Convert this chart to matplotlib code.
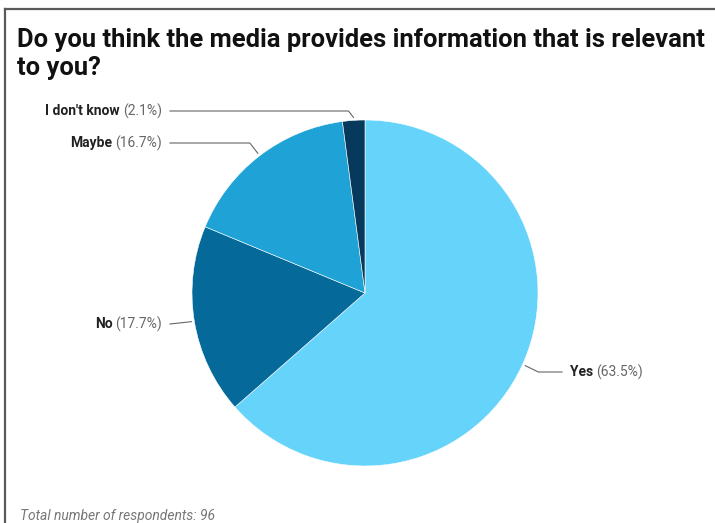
import numpy as np
import matplotlib
matplotlib.use("Agg")
from matplotlib import pyplot as plt
from matplotlib.lines import Line2D

# survey answers, clockwise from 12 o'clock
answers = ["Yes", "No", "Maybe", "I don't know"]
counts = [61, 17, 16, 2]
colors = ["#66D4FA", "#05699A", "#1FA2D5", "#07395C"]
title_lines = ["Do you think the media provides information that is relevant", "to you?"]
footnote = "Total number of respondents: 96"

W, H = 715, 523
plt.rcParams['font.family'] = ['Roboto', 'DejaVu Sans']

fig = plt.figure(figsize=(W / 100, H / 100), dpi=100)
ax = fig.add_axes([0, 0, 1, 1])

cx, cy, radius = 365, 293, 173
wedges, _ = ax.pie(counts, colors=colors, startangle=90, counterclock=False,
                   center=(cx, H - cy), radius=radius,
                   wedgeprops=dict(edgecolor="white", linewidth=0.4))
ax.set_xlim(0, W)
ax.set_ylim(0, H)
ax.set_aspect("equal")
ax.axis("off")

# frame of the card (left + top only)
fig.add_artist(Line2D([5 / W, 5 / W], [0, 1 - 9 / H], color="#5a5a5a", lw=1.6))
fig.add_artist(Line2D([5 / W, 1], [1 - 9 / H, 1 - 9 / H], color="#5a5a5a", lw=1.6))

for line, base in zip(title_lines, [47, 74.5]):
    fig.text(17 / W, 1 - base / H, line, fontsize=18.4, fontweight="bold",
             color="#111111", ha="left", va="baseline")
fig.text(20 / W, 1 - 520 / H, footnote, fontsize=10, style="italic",
         color="#777777", ha="left", va="baseline")

# label layout: (label y, elbow offset dx, line end x, side)
layout = {
    "Yes": (372, 13, 562, "right"),
    "No": (324, None, 170, "left"),
    "Maybe": (143, -8, 170, "left"),
    "I don't know": (111, -5, 170, "left"),
}

renderer = fig.canvas.get_renderer()
total = sum(counts)
for w, name, n in zip(wedges, answers, counts):
    pct = f"({n / total * 100:.1f}%)"
    mid = np.deg2rad((w.theta1 + w.theta2) / 2)
    sx = cx + (radius + 3) * np.cos(mid)
    sy = cy - (radius + 3) * np.sin(mid)
    ly, elbow, ex, side = layout[name]
    xs, ys = [sx], [sy]
    if elbow is not None:
        xs.append(sx + elbow)
        ys.append(ly)
    xs.append(ex)
    ys.append(ly)
    ax.plot(xs, [H - y for y in ys], color="#666666", lw=0.8)

    if side == "right":
        t1 = ax.text(ex + 8, H - ly, name, fontsize=10, fontweight="bold",
                     color="#222222", ha="left", va="center")
        bb = t1.get_window_extent(renderer)
        ax.text(bb.x1 + 3, H - ly, pct, fontsize=10, color="#666666",
                ha="left", va="center")
    else:
        t2 = ax.text(ex - 8, H - ly, pct, fontsize=10, color="#666666",
                     ha="right", va="center")
        bb = t2.get_window_extent(renderer)
        ax.text(bb.x0 - 3, H - ly, name, fontsize=10, fontweight="bold",
                color="#222222", ha="right", va="center")

fig.savefig("out.png", dpi=100, facecolor="white")
